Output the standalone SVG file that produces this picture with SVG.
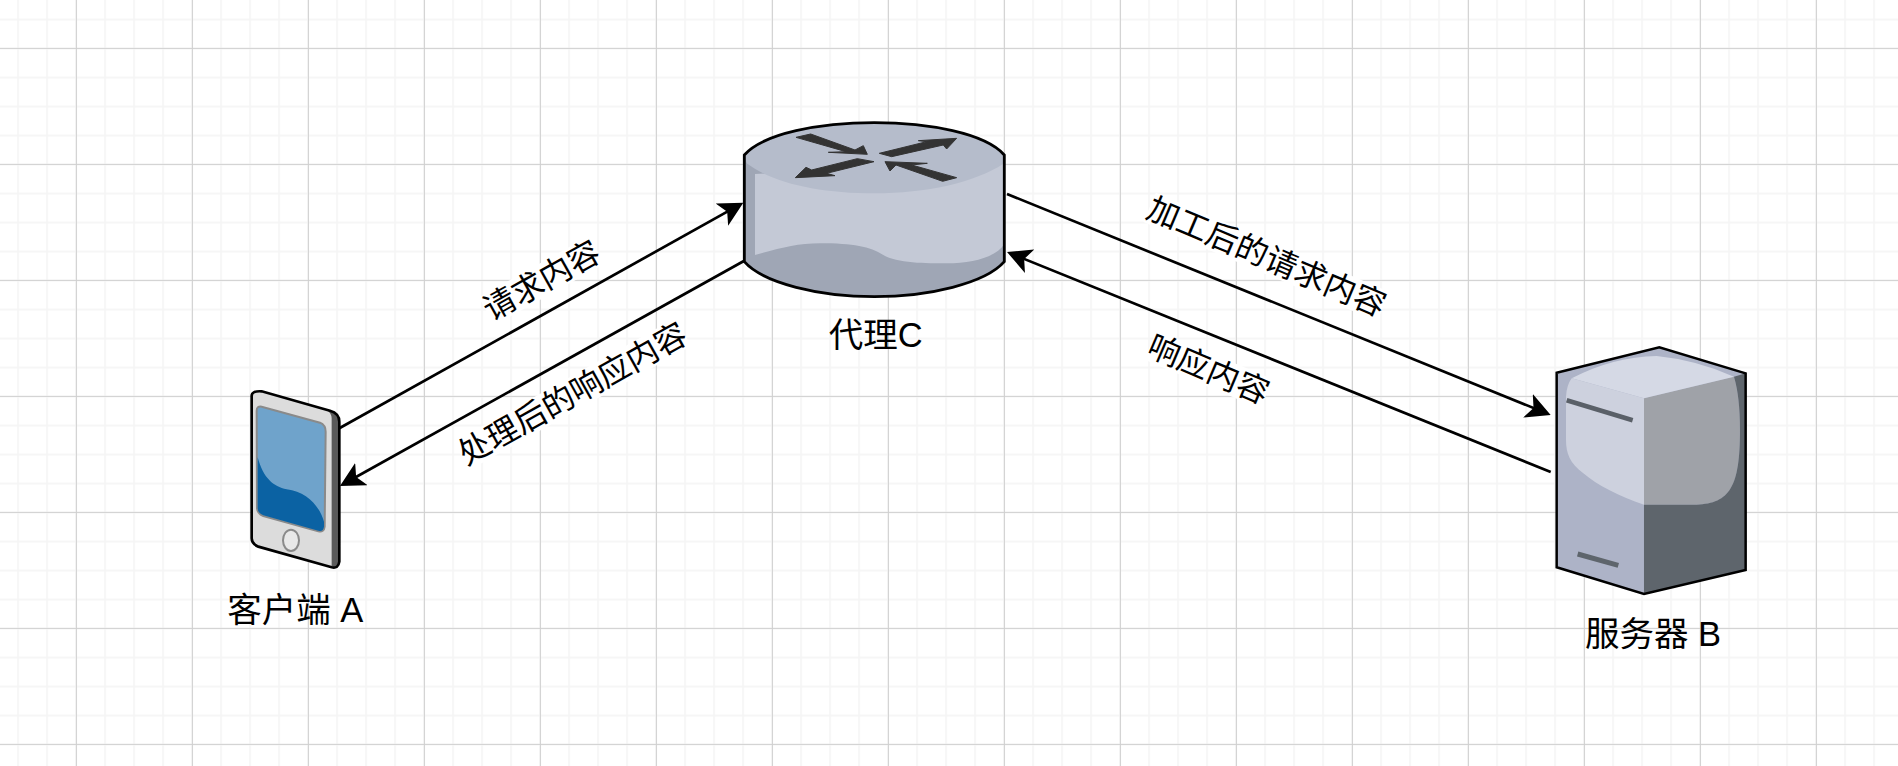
<svg xmlns="http://www.w3.org/2000/svg" width="1898" height="766" viewBox="0 0 1898 766">
<style>
.t{font-family:"Liberation Sans","Noto Sans CJK SC",sans-serif;fill:#000;text-anchor:middle;dominant-baseline:central}
.n{font-size:34.5px;dominant-baseline:alphabetic}
.e{font-size:32px}
.c{fill:none;stroke:#000;stroke-width:2.7}
.bg{fill:#fff}
.g{fill:#333;stroke:#333;stroke-width:3}
</style>
<defs>
<pattern id="minor" width="29" height="29" patternUnits="userSpaceOnUse" x="17.2" y="18.6">
<path d="M0,0H29M0,0V29" fill="none" stroke="#f5f5f5" stroke-width="3.4"/>
</pattern>
<pattern id="major" width="116" height="116" patternUnits="userSpaceOnUse" x="75.9" y="47.9">
<path d="M0,0H116M0,0V116" fill="none" stroke="#d0d0d0" stroke-width="2"/>
</pattern>
<marker id="arr" viewBox="0 0 24.5 25.5" markerUnits="userSpaceOnUse" markerWidth="24.5" markerHeight="25.5" refX="20" refY="12.75" orient="auto">
<path d="M24.5,12.75L0,0L6,12.75L0,25.5Z" fill="#000"/>
</marker>
</defs>
<rect width="1898" height="766" fill="#fff"/>
<rect width="1898" height="766" fill="url(#minor)"/>
<rect width="1898" height="766" fill="url(#major)"/>
<g id="connectors">
<line class="c" x1="339.3" y1="428.3" x2="739.4" y2="204.9" marker-end="url(#arr)"/>
<line class="c" x1="744.3" y1="260.7" x2="343.9" y2="483.8" marker-end="url(#arr)"/>
<line class="c" x1="1007" y1="194" x2="1546.5" y2="413.3" marker-end="url(#arr)"/>
<line class="c" x1="1550.7" y1="472" x2="1011.2" y2="253.7" marker-end="url(#arr)"/>
<g id="label-1"><rect class="bg" x="-63" y="-16" width="126" height="32" transform="translate(541.7,280.7) rotate(-29.2)"/><text class="t e" transform="translate(541.7,280.7) rotate(-29.2)">请求内容</text></g>
<g id="label-2"><rect class="bg" x="-127" y="-16" width="254" height="32" transform="translate(572.5,394) rotate(-29.2)"/><text class="t e" transform="translate(572.5,394) rotate(-29.2)">处理后的响应内容</text></g>
<g id="label-3"><rect class="bg" x="-127" y="-16" width="254" height="32" transform="translate(1266.5,257) rotate(23)"/><text class="t e" transform="translate(1266.5,257) rotate(23)">加工后的请求内容</text></g>
<g id="label-4"><rect class="bg" x="-63" y="-16" width="126" height="32" transform="translate(1208.5,369.5) rotate(23)"/><text class="t e" transform="translate(1208.5,369.5) rotate(23)">响应内容</text></g>
</g>
<g id="node-router">
<g transform="translate(720,100) scale(.3333)">
<path d="M73,165C130,100 300,68 463,68C626,68 796,100 853,165L853,485C796,550 626,590 463,590C300,590 130,550 73,485Z" fill="#9fa6b5"/>
<path d="M105,222L105,465C180,445 230,430 300,430C400,430 450,440 490,465C530,490 620,490 680,490C760,490 830,470 853,432L853,190Z" fill="#c4c9d6"/>
<path d="M73,165C130,100 300,68 463,68C626,68 796,100 853,165L853,190C760,250 620,280 463,280C300,280 160,250 80,190Z" fill="#b5bccb"/>
<path class="g" d="M228,112L272,102L405,150L430,137L442,163L325,157L378,155Z"/>
<path class="g" d="M710,115L680,147L670,135L515,170L478,160L620,125L595,122Z"/>
<path class="g" d="M226,233L258,202L275,210L412,176L462,185L320,220L345,227Z"/>
<path class="g" d="M495,185L622,190L575,195L710,233L668,244L528,195L510,213Z"/>
<path d="M73,165C130,100 300,68 463,68C626,68 796,100 853,165L853,485C796,550 626,590 463,590C300,590 130,550 73,485Z" fill="none" stroke="#000" stroke-width="8.5"/>
</g>
<text class="t n" x="875.8" y="346.5">代理C</text>
</g>
<g id="node-client">
<g transform="translate(220,370) scale(.3333)">
<path d="M95,78Q95,62 125,64L330,122Q358,130 358,155L358,575Q355,597 335,592L115,530Q95,522 95,505Z" fill="#dcdcdc"/>
<path d="M330,122Q358,130 358,155L358,575Q355,597 335,592Q335,590 335,570L335,145Q335,130 320,120Z" fill="#5a5a5a"/>
<path d="M110,122Q110,108 125,110L300,158Q317,165 317,185L314,470Q312,488 295,484L130,438Q112,430 111,415Z" fill="#6fa3cb" stroke="#8a8a8a" stroke-width="6"/>
<path d="M113,262C130,325 160,350 200,358C260,365 300,410 312,455L312,470Q310,486 295,482L130,436Q114,430 113,415Z" fill="#0b62a3"/>
<ellipse cx="213" cy="511" rx="24" ry="32" fill="#e8e8e8" stroke="#8a8a8a" stroke-width="6"/>
<path d="M95,78Q95,62 125,64L330,122Q358,130 358,155L358,575Q355,597 335,592L115,530Q95,522 95,505Z" fill="none" stroke="#000" stroke-width="8"/>
</g>
<text class="t n" x="295.3" y="621.5">客户端 A</text>
</g>
<g id="node-server">
<g transform="translate(1530,330) scale(.3333)">
<path d="M80,128L388,52L647,130L647,720L342,792L80,712Z" fill="#adb3c7"/>
<path d="M342,205L612,140Q630,200 630,300C630,470 600,520 500,524L342,524Z" fill="#9fa2a8"/>
<path d="M342,524L500,524C600,520 630,470 630,300Q630,200 612,140L647,130L647,720L342,792Z" fill="#5e656c"/>
<path d="M125,145Q250,80 380,78Q500,90 612,140L342,205Z" fill="#d5d9e5"/>
<path d="M125,145L342,205L342,524C270,500 200,465 160,430C120,400 108,370 108,330L108,200Q110,165 125,145Z" fill="#cdd1de"/>
<path d="M110,211L308,271" stroke="#5a6068" stroke-width="14" fill="none"/>
<path d="M143,672L265,706" stroke="#5e656c" stroke-width="15" fill="none"/>
<path d="M80,128L388,52L647,130L647,720L342,792L80,712Z" fill="none" stroke="#000" stroke-width="7.5" stroke-linejoin="miter"/>
</g>
<text class="t n" x="1653" y="646">服务器 B</text>
</g>
</svg>
